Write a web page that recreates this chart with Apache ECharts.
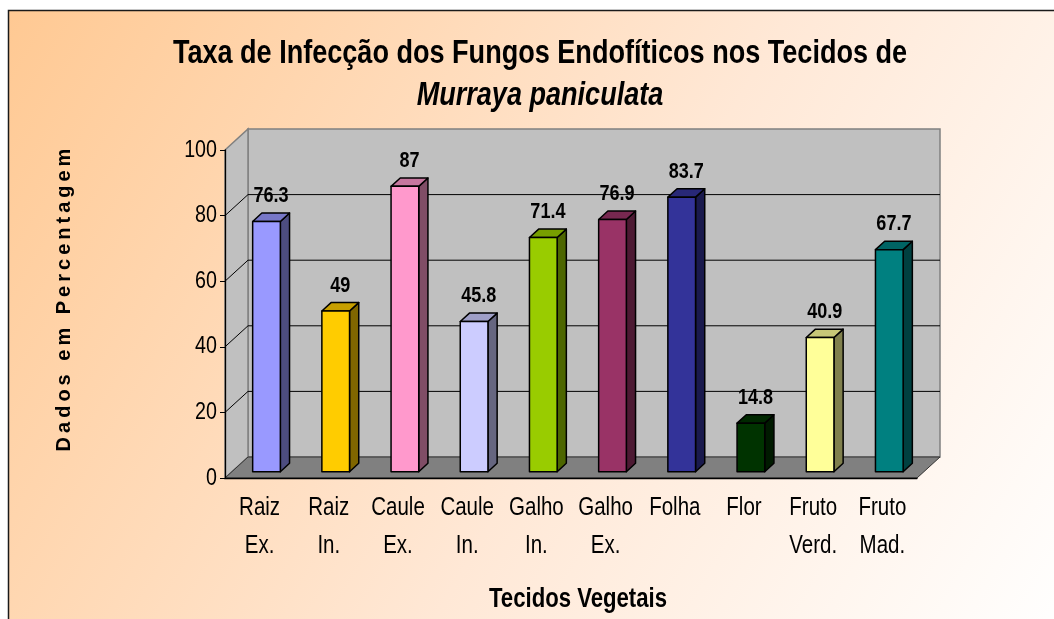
<!DOCTYPE html>
<html>
<head>
<meta charset="utf-8">
<title>Taxa de Infecção dos Fungos Endofíticos</title>
<script src="https://cdn.jsdelivr.net/npm/echarts@6/dist/echarts.min.js"></script>
<style>
  html, body { margin: 0; padding: 0; background: #fff; }
  #chart { width: 1054px; height: 619px; }
</style>
</head>
<body>
<div id="chart"></div>
<script>
// dados
const categorias = ['Raiz\nEx.', 'Raiz\nIn.', 'Caule\nEx.', 'Caule\nIn.', 'Galho\nIn.', 'Galho\nEx.', 'Folha', 'Flor', 'Fruto\nVerd.', 'Fruto\nMad.'];
const valores = [76.3, 49, 87, 45.8, 71.4, 76.9, 83.7, 14.8, 40.9, 67.7];
const ticksY = [0, 20, 40, 60, 80, 100];

// cores das barras (paleta do Excel)
const cores = ['#9999FF', '#FFCC00', '#FF99CC', '#CCCCFF', '#99CC00', '#993366', '#333399', '#003300', '#FFFF99', '#008080'];

// Arial Narrow não existe aqui: Liberation Sans comprimida na horizontal
const FONTE = "'Liberation Sans', Arial, sans-serif";
const ESTREITO = 0.82;
const DX = 23, DY = 21; // profundidade da parede (efeito 3D)

const escurecer = (hex, f) => {
  const n = parseInt(hex.slice(1), 16);
  const r = Math.round(((n >> 16) & 255) * f);
  const g = Math.round(((n >> 8) & 255) * f);
  const b = Math.round((n & 255) * f);
  return `rgb(${r},${g},${b})`;
};

const texto = (x, y, str, font, align, vAlign, extra) => ({
  type: 'text', x, y, scaleX: ESTREITO,
  style: Object.assign({ text: str, fill: '#000', font,
    textAlign: align, textVerticalAlign: vAlign, align, verticalAlign: vAlign }, extra || {})
});

// paredes e piso
const desenhaParedes = (params, api) => {
  const cs = params.coordSys;
  const l = cs.x, r = cs.x + cs.width, t = cs.y, b = cs.y + cs.height;
  return {
    type: 'group',
    children: [
      { type: 'polygon', shape: { points: [[l + DX, t - DY], [r + DX, t - DY], [r + DX, b - DY], [l + DX, b - DY]] },
        style: { fill: '#C0C0C0', stroke: '#808080', lineWidth: 1.5 } },
      { type: 'polygon', shape: { points: [[l, t], [l + DX, t - DY], [l + DX, b - DY], [l, b]] },
        style: { fill: '#C0C0C0', stroke: '#808080', lineWidth: 1.5 } },
      { type: 'polygon', shape: { points: [[l, b], [l + DX, b - DY], [r + DX, b - DY], [r, b]] },
        style: { fill: '#808080', stroke: '#333', lineWidth: 1 } }
    ]
  };
};

// linhas de grade na parede
const desenhaGrade = (params, api) => {
  const v = api.value(1);
  if (v <= 0 || v >= 100) return null;
  const cs = params.coordSys;
  const l = cs.x, r = cs.x + cs.width;
  const y = api.coord([0, v])[1];
  return {
    type: 'polyline',
    shape: { points: [[l, y], [l + DX, y - DY], [r + DX, y - DY]] },
    style: { stroke: '#000', lineWidth: 1, fill: null }
  };
};

// rótulos do eixo Y
const rotuloY = (params, api) => {
  const v = api.value(1);
  const y = api.coord([0, v])[1];
  return texto(params.coordSys.x - 8, y, String(v), `24px ${FONTE}`, 'right', 'middle');
};

// rótulos das categorias
const rotuloX = (params, api) => {
  const i = api.value(0);
  const x = api.coord([i, 0])[0];
  const cs = params.coordSys;
  return texto(x, cs.y + cs.height + 11, categorias[i], `25px ${FONTE}`, 'center', 'top', { lineHeight: 38 });
};

// barras 3D
const desenhaBarra = (params, api) => {
  const i = api.value(0), v = api.value(1);
  const base = api.coord([i, 0]);
  const topo = api.coord([i, v]);
  const banda = api.size([1, 0])[0];
  const w = banda * 0.4;
  const ox = DX * 0.3, oy = DY * 0.3, bx = DX * 0.4, by = DY * 0.4;
  const x0 = base[0] - w / 2 + ox, x1 = x0 + w;
  const yb = base[1] - oy, yt = topo[1] - oy;
  const cor = cores[params.dataIndex];
  const borda = { stroke: '#000', lineWidth: 1.5, lineJoin: 'round' };
  return {
    type: 'group',
    children: [
      { type: 'polygon', shape: { points: [[x1, yt], [x1 + bx, yt - by], [x1 + bx, yb - by], [x1, yb]] },
        style: Object.assign({ fill: escurecer(cor, 0.5) }, borda) },
      { type: 'polygon', shape: { points: [[x0, yt], [x0 + bx, yt - by], [x1 + bx, yt - by], [x1, yt]] },
        style: Object.assign({ fill: escurecer(cor, 0.78) }, borda) },
      { type: 'rect', shape: { x: x0, y: yt, width: w, height: yb - yt },
        style: Object.assign({ fill: cor }, borda) },
      texto(x0 + w / 2 + bx / 2, yt - by - 6, String(v), `bold 22px ${FONTE}`, 'center', 'bottom')
    ]
  };
};

const chart = echarts.init(document.getElementById('chart'), null, { renderer: 'canvas' });

chart.setOption({
  animation: false,
  graphic: [
    { type: 'rect', z: -100, shape: { x: 8.5, y: 10.5, width: 1060, height: 620 },
      style: { stroke: '#1a1a1a', lineWidth: 1.5,
        fill: new echarts.graphic.LinearGradient(0, 0, 1, 1, [
          { offset: 0, color: '#FFC993' },
          { offset: 0.55, color: '#FFE8D6' },
          { offset: 1, color: '#FFFFFF' }
        ]) } },
    texto(540, 54, 'Taxa de Infecção dos Fungos Endofíticos nos Tecidos de', `bold 33px ${FONTE}`, 'center', 'middle'),
    texto(540, 96, 'Murraya paniculata', `italic bold 33px ${FONTE}`, 'center', 'middle'),
    { type: 'text', x: 64, y: 298, rotation: Math.PI / 2, zlevel: 5,
      style: { text: 'Dados em Percentagem', fill: '#000',
        font: `bold 20px ${FONTE}`, textAlign: 'center', textVerticalAlign: 'middle', align: 'center', verticalAlign: 'middle' } },
    texto(578, 600, 'Tecidos Vegetais', `bold 27px ${FONTE}`, 'center', 'middle')
  ],
  grid: { left: 225, right: 137, top: 150, bottom: 141 },
  xAxis: {
    type: 'category',
    data: categorias,
    z: 10,
    axisLine: { lineStyle: { color: '#000', width: 1.3 } },
    axisTick: { length: 6, lineStyle: { color: '#000' } },
    axisLabel: { show: false }
  },
  yAxis: {
    type: 'value',
    min: ticksY[0],
    max: ticksY[ticksY.length - 1],
    interval: 20,
    z: 10,
    axisLine: { show: true, lineStyle: { color: '#000', width: 1.3 } },
    axisTick: { show: true, length: 5, lineStyle: { color: '#000' } },
    splitLine: { show: false },
    axisLabel: { show: false }
  },
  series: [
    { type: 'custom', renderItem: desenhaParedes, data: [[0, 0]], z: 1, silent: true },
    { type: 'custom', renderItem: desenhaGrade, data: ticksY.map(v => [0, v]), z: 2, silent: true },
    { type: 'custom', renderItem: desenhaBarra, data: valores.map((v, i) => [i, v]), z: 3 },
    { type: 'custom', renderItem: rotuloY, data: ticksY.map(v => [0, v]), z: 4, silent: true },
    { type: 'custom', renderItem: rotuloX, data: categorias.map((c, i) => [i, 0]), z: 4, silent: true }
  ]
});

// espaçamento entre letras no título do eixo Y (camada própria)
const zr = chart.getZr();
const camada = zr.painter.getLayer(5);
if (camada && camada.ctx) {
  camada.ctx.letterSpacing = '4px';
  zr.painter.refresh(true);
}
</script>
</body>
</html>
